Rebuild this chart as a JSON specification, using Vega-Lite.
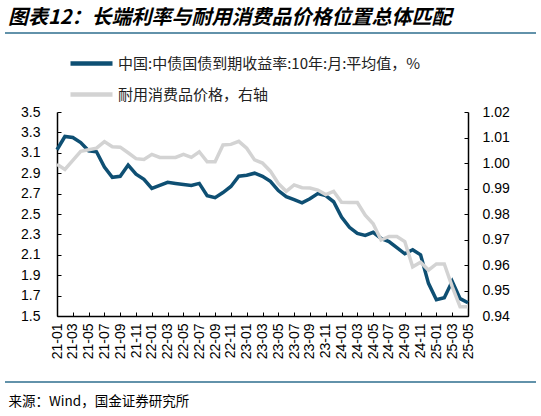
{
  "$schema": "https://vega.github.io/schema/vega-lite/v6.json",
  "background": "white",
  "autosize": {"type": "none"},
  "padding": {"left": 5, "top": 33, "right": 5, "bottom": 34},
  "width": 531,
  "height": 349,
  "view": {"stroke": "#2f6f8f", "strokeWidth": 1.5, "strokeDash": [531, 349]},
  "title": {
    "text": "图表12：长端利率与耐用消费品价格位置总体匹配",
    "anchor": "start",
    "frame": "group",
    "font": "Noto Sans CJK SC",
    "fontSize": 20,
    "fontStyle": "italic",
    "fontWeight": "bold",
    "color": "#000",
    "offset": 5,
    "dx": 3
  },
  "config": {
    "font": "Liberation Sans",
    "axis": {"grid": false, "domainColor": "#000", "tickColor": "#000", "labelColor": "#000", "domainWidth": 1.5, "tickWidth": 1}
  },
  "data": {"name": "rates"},
  "encoding": {
    "x": {
      "field": "month",
      "type": "ordinal",
      "sort": null,
      "scale": {"type": "point", "padding": 0, "range": [52, 463]},
      "axis": {
        "offset": -66,
        "values": ["21-01","21-03","21-05","21-07","21-09","21-11","22-01","22-03","22-05","22-07","22-09","22-11","23-01","23-03","23-05","23-07","23-09","23-11","24-01","24-03","24-05","24-07","24-09","24-11","25-01","25-03","25-05"],
        "labelAngle": -90,
        "labelFontSize": 14,
        "tickSize": -4,
        "labelPadding": 11,
        "title": "来源：Wind，国金证券研究所",
        "titleFont": "Noto Sans CJK SC",
        "titleFontSize": 13.5,
        "titleFontWeight": "normal",
        "titleColor": "#000",
        "titleAlign": "left",
        "titleBaseline": "top",
        "titleX": 3,
        "titleY": 78
      }
    }
  },
  "layer": [
    {
      "mark": {"type": "line", "strokeWidth": 3.5},
      "encoding": {
        "y": {
          "field": "yield",
          "type": "quantitative",
          "scale": {"domain": [1.5, 3.5], "range": [283, 79], "nice": false, "zero": false},
          "axis": {
            "title": null,
            "offset": -52,
            "values": [1.5, 1.7, 1.9, 2.1, 2.3, 2.5, 2.7, 2.9, 3.1, 3.3, 3.5],
            "format": ".1f",
            "labelFontSize": 14,
            "tickSize": -4,
            "labelPadding": 21
          }
        },
        "color": {
          "datum": "中国:中债国债到期收益率:10年:月:平均值，%",
          "scale": {
            "domain": ["中国:中债国债到期收益率:10年:月:平均值，%", "耐用消费品价格，右轴"],
            "range": ["#0e4f73", "#d3d3d3"]
          },
          "legend": {
            "orient": "none",
            "legendX": 70,
            "legendY": 14,
            "direction": "vertical",
            "title": null,
            "padding": 0,
            "symbolType": "M-1.5,0H1.5",
            "symbolSize": 784,
            "symbolStrokeWidth": 4.5,
            "rowPadding": 5,
            "labelFont": "Noto Sans CJK SC",
            "labelFontSize": 15,
            "labelColor": "#222",
            "labelOffset": 10,
            "labelLimit": 0
          }
        }
      }
    },
    {
      "mark": {"type": "line", "strokeWidth": 3.5},
      "encoding": {
        "y": {
          "field": "price",
          "type": "quantitative",
          "scale": {"domain": [0.94, 1.02], "range": [283, 79], "nice": false, "zero": false},
          "axis": {
            "orient": "right",
            "offset": -68,
            "title": null,
            "values": [0.94, 0.95, 0.96, 0.97, 0.98, 0.99, 1.0, 1.01, 1.02],
            "format": ".2f",
            "labelFontSize": 14,
            "tickSize": -4,
            "labelPadding": 18
          }
        },
        "color": {"datum": "耐用消费品价格，右轴"}
      }
    }
  ],
  "resolve": {"scale": {"y": "independent"}},
  "datasets": {
    "rates": [
      {"month": "21-01", "yield": 3.13, "price": 0.9995},
      {"month": "21-02", "yield": 3.26, "price": 0.9975},
      {"month": "21-03", "yield": 3.25, "price": 1.0010},
      {"month": "21-04", "yield": 3.20, "price": 1.0046},
      {"month": "21-05", "yield": 3.12, "price": 1.0052},
      {"month": "21-06", "yield": 3.11, "price": 1.0058},
      {"month": "21-07", "yield": 2.96, "price": 1.0084},
      {"month": "21-08", "yield": 2.86, "price": 1.0064},
      {"month": "21-09", "yield": 2.87, "price": 1.0062},
      {"month": "21-10", "yield": 2.98, "price": 1.0040},
      {"month": "21-11", "yield": 2.89, "price": 1.0017},
      {"month": "21-12", "yield": 2.84, "price": 1.0014},
      {"month": "22-01", "yield": 2.75, "price": 1.0034},
      {"month": "22-02", "yield": 2.78, "price": 1.0022},
      {"month": "22-03", "yield": 2.81, "price": 1.0022},
      {"month": "22-04", "yield": 2.80, "price": 1.0022},
      {"month": "22-05", "yield": 2.79, "price": 1.0034},
      {"month": "22-06", "yield": 2.78, "price": 1.0022},
      {"month": "22-07", "yield": 2.80, "price": 1.0044},
      {"month": "22-08", "yield": 2.68, "price": 1.0005},
      {"month": "22-09", "yield": 2.66, "price": 1.0005},
      {"month": "22-10", "yield": 2.71, "price": 1.0071},
      {"month": "22-11", "yield": 2.77, "price": 1.0073},
      {"month": "22-12", "yield": 2.87, "price": 1.0085},
      {"month": "23-01", "yield": 2.88, "price": 1.0058},
      {"month": "23-02", "yield": 2.90, "price": 1.0012},
      {"month": "23-03", "yield": 2.87, "price": 1.0000},
      {"month": "23-04", "yield": 2.82, "price": 0.9968},
      {"month": "23-05", "yield": 2.73, "price": 0.9920},
      {"month": "23-06", "yield": 2.67, "price": 0.9889},
      {"month": "23-07", "yield": 2.64, "price": 0.9914},
      {"month": "23-08", "yield": 2.61, "price": 0.9903},
      {"month": "23-09", "yield": 2.65, "price": 0.9902},
      {"month": "23-10", "yield": 2.70, "price": 0.9894},
      {"month": "23-11", "yield": 2.68, "price": 0.9876},
      {"month": "23-12", "yield": 2.62, "price": 0.9889},
      {"month": "24-01", "yield": 2.47, "price": 0.9846},
      {"month": "24-02", "yield": 2.37, "price": 0.9845},
      {"month": "24-03", "yield": 2.31, "price": 0.9845},
      {"month": "24-04", "yield": 2.29, "price": 0.9795},
      {"month": "24-05", "yield": 2.32, "price": 0.9762},
      {"month": "24-06", "yield": 2.26, "price": 0.9698},
      {"month": "24-07", "yield": 2.23, "price": 0.9712},
      {"month": "24-08", "yield": 2.17, "price": 0.9712},
      {"month": "24-09", "yield": 2.11, "price": 0.9692},
      {"month": "24-10", "yield": 2.15, "price": 0.9593},
      {"month": "24-11", "yield": 2.10, "price": 0.9611},
      {"month": "24-12", "yield": 1.82, "price": 0.9580},
      {"month": "25-01", "yield": 1.66, "price": 0.9604},
      {"month": "25-02", "yield": 1.68, "price": 0.9604},
      {"month": "25-03", "yield": 1.84, "price": 0.9515},
      {"month": "25-04", "yield": 1.67, "price": 0.9436},
      {"month": "25-05", "yield": 1.63, "price": 0.9436}
    ]
  }
}
